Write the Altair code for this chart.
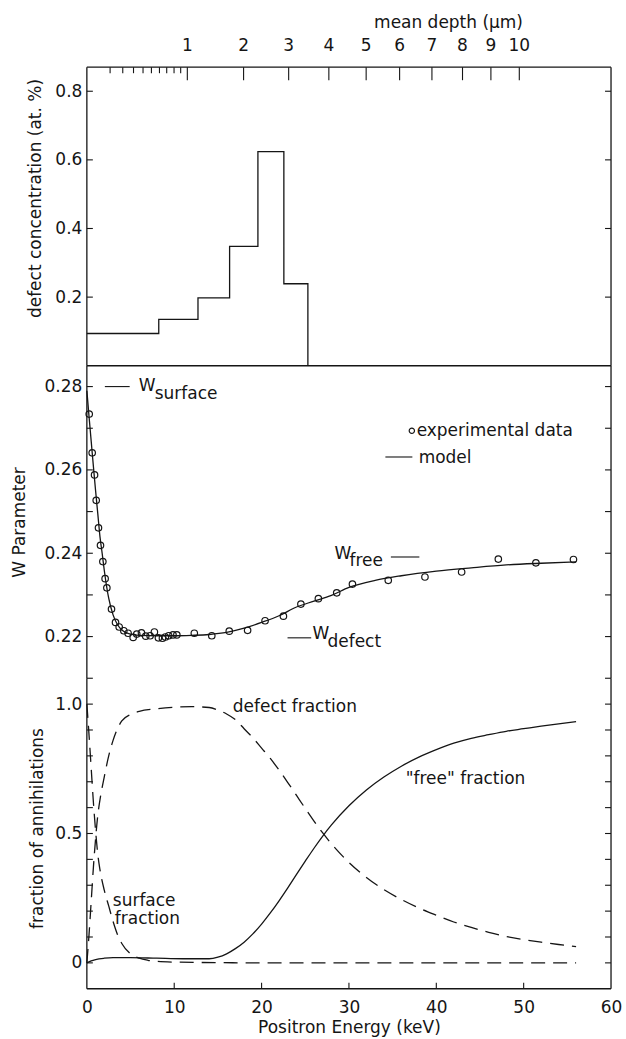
import altair as alt
import pandas as pd

# ---------------- data ----------------
# top panel: defect concentration profile (step function, at. %)
prof_E = [0, 8.23, 12.72, 16.34, 19.58, 22.55, 25.3]
prof_c = [0.094, 0.135, 0.198, 0.348, 0.624, 0.239, 0.0]

# top axis: mean depth (um) -> positron energy (keV) positions
depth_labels = ["1", "2", "3", "4", "5", "6", "7", "8", "9", "10"]
depth_major_E = [11.5, 17.94, 23.1, 27.7, 31.97, 35.8, 39.5, 43.0, 46.25, 49.5]
depth_minor_E = [2.66, 4.11, 5.34, 6.43, 7.39, 8.31, 9.14, 9.98, 10.74]

# middle panel: W parameter, experimental points
W_exp_E = [0.27, 0.61, 0.88, 1.07, 1.33, 1.56, 1.83, 2.09, 2.29, 2.82,
           3.28, 3.7, 4.23, 4.72, 5.3, 5.71, 6.25, 6.74, 7.24, 7.73,
           8.19, 8.65, 8.99, 9.37, 9.86, 10.3, 12.3, 14.3, 16.3, 18.4,
           20.4, 22.5, 24.5, 26.5, 28.6, 30.4, 34.5, 38.7, 42.9, 47.1,
           51.4, 55.7]
W_exp = [0.2734, 0.2641, 0.2588, 0.2527, 0.2461, 0.2419, 0.2380, 0.2339, 0.2317, 0.2266,
         0.2234, 0.2223, 0.2214, 0.2208, 0.2198, 0.2206, 0.2209, 0.2201, 0.2202, 0.2211,
         0.2197, 0.2196, 0.2199, 0.2202, 0.2204, 0.2204, 0.2208, 0.2202, 0.2213, 0.2215,
         0.2238, 0.2249, 0.2278, 0.2291, 0.2305, 0.2326, 0.2335, 0.2343, 0.2355, 0.2386,
         0.2377, 0.2385]

# middle panel: model curve
W_model_E = [0, 0.25, 0.5, 0.75, 1.0, 1.25, 1.5, 1.75, 2.0, 2.5,
             3.0, 3.5, 4.0, 5.0, 6.0, 8.0, 10, 12, 14, 16,
             18, 20, 22, 24, 26, 28, 30, 33, 36, 40,
             44, 48, 52, 56]
W_model = [0.279, 0.2728, 0.2668, 0.2608, 0.2550, 0.2495, 0.2440, 0.2400, 0.2358, 0.2292,
           0.2252, 0.2229, 0.2216, 0.2206, 0.2203, 0.2202, 0.2202, 0.2203, 0.2205, 0.2210,
           0.2220, 0.2234, 0.2250, 0.2271, 0.2285, 0.2299, 0.2318, 0.2335, 0.2346, 0.2357,
           0.2365, 0.2372, 0.2376, 0.2379]

# bottom panel: fractions of annihilations
free_E = [0, 0.5, 1, 2, 3, 5, 8, 11, 14, 15,
          16, 17, 18, 19, 20, 21, 22, 23, 24, 25,
          26, 27, 28, 30, 32, 34, 36, 38, 40, 42,
          44, 46, 48, 50, 52, 54, 56]
free_f = [0.0, 0.008, 0.013, 0.018, 0.02, 0.02, 0.018, 0.016, 0.016, 0.022,
          0.035, 0.055, 0.08, 0.112, 0.15, 0.193, 0.24, 0.29, 0.342, 0.393,
          0.443, 0.49, 0.533, 0.607, 0.668, 0.718, 0.76, 0.795, 0.824, 0.849,
          0.868, 0.882, 0.895, 0.905, 0.915, 0.924, 0.932]

defect_E = [0, 0.25, 0.5, 0.75, 1.0, 1.25, 1.5, 2.0, 2.5, 3.0,
            3.5, 4.0, 5, 6, 8, 10, 12, 14, 15, 16,
            17, 18, 19, 20, 21, 22, 23, 24, 25, 26,
            27, 28, 30, 32, 34, 36, 38, 40, 42, 44,
            46, 48, 50, 52, 54, 56]
defect_f = [0, 0.11, 0.24, 0.37, 0.48, 0.57, 0.63, 0.72, 0.80, 0.86,
            0.905, 0.935, 0.96, 0.972, 0.982, 0.988, 0.99, 0.987, 0.977, 0.962,
            0.94, 0.905, 0.87, 0.83, 0.79, 0.745, 0.697, 0.647, 0.597, 0.548,
            0.502, 0.46, 0.388, 0.33, 0.283, 0.245, 0.212, 0.184, 0.158, 0.137,
            0.118, 0.102, 0.09, 0.08, 0.071, 0.063]

surf_E = [0, 0.25, 0.5, 0.75, 1.0, 1.25, 1.5, 2.0, 2.5, 3.0,
          3.5, 4.0, 5.0, 6.0, 7.0, 8.0, 10, 15, 20, 30,
          40, 50, 56]
surf_f = [1.0, 0.88, 0.75, 0.62, 0.51, 0.42, 0.36, 0.28, 0.22, 0.16,
          0.11, 0.075, 0.035, 0.018, 0.01, 0.006, 0.003, 0.001, 0, 0,
          0, 0, 0]

# axis tick values
x_ticks = [0, 10, 20, 30, 40, 50, 60]
x_inner_ticks = [10, 20, 30, 40, 50]
top_y_labels = [0.2, 0.4, 0.6, 0.8]
mid_y_labels = [0.22, 0.24, 0.26, 0.28]
mid_y_ticks = [0.22, 0.23, 0.24, 0.25, 0.26, 0.27, 0.28]
bot_y_labels = [0, 0.5, 1.0]
bot_y_ticks = [0, 0.1, 0.2, 0.3, 0.4, 0.5, 0.6, 0.7, 0.8, 0.9, 1.0, 1.1]

# annotations (data coordinates)
mid_text = pd.DataFrame({
    "E": [5.94, 7.77, 37.75, 37.98, 28.34, 30.06, 25.83, 27.54],
    "v": [0.2802, 0.2783, 0.2694, 0.2629, 0.2397, 0.2381, 0.2205, 0.2188],
    "t": ["W", "surface", "experimental data", "model", "W", "free", "W", "defect"],
})
mid_dash = pd.DataFrame({
    "x1": [2.06, 34.17, 34.8, 22.97],
    "x2": [4.9, 37.26, 38.06, 25.68],
    "v": [0.28, 0.2631, 0.2391, 0.2197],
})
mid_marker = pd.DataFrame({"E": [37.2], "v": [0.2694]})
bot_text = pd.DataFrame({
    "E": [16.7, 2.97, 3.2, 36.5],
    "v": [0.99, 0.241, 0.17, 0.71],
    "t": ["defect fraction", "surface", "fraction", "\"free\" fraction"],
})
depth_title = pd.DataFrame({"E": [41.4], "t": ["mean depth (μm)"]})

# ---------------- chart ----------------
PW = 525
H1, H2, H3 = 299, 313, 311
INK = "#151515"
FONT = "DejaVu Sans"
FS = 17
LW = 1.3

xsc = alt.Scale(domain=[0, 60], nice=False, zero=False)
y1 = alt.Scale(domain=[0, 0.87], nice=False, zero=False)
y2 = alt.Scale(domain=[0.21, 0.285], nice=False, zero=False)
y3 = alt.Scale(domain=[-0.1, 1.1], nice=False, zero=False)

ax1 = alt.Axis(values=top_y_labels, format=".1f", title="defect concentration (at. %)",
               ticks=False, tickSize=0, domain=False, grid=False, labelPadding=5,
               titleX=-51, titleY=131, titleBaseline="middle")
ax2 = alt.Axis(values=mid_y_labels, format=".2f", title="W Parameter",
               ticks=False, tickSize=0, domain=False, grid=False, labelPadding=5,
               titleX=-67, titleBaseline="middle")
ax3 = alt.Axis(values=bot_y_labels, title="fraction of annihilations",
               labelExpr="datum.value == 0 ? '0' : format(datum.value, '.1f')",
               ticks=False, tickSize=0, domain=False, grid=False, labelPadding=5,
               titleX=-49, titleY=150, titleBaseline="middle")
axx = alt.Axis(values=x_ticks, format="d", title="Positron Energy (keV)",
               ticks=False, tickSize=0, domain=False, grid=False, labelPadding=11,
               labelFlush=False, titlePadding=4)

one = alt.Data(values=[{"k": 0}])


def rule_px(**enc):
    return alt.Chart(one).mark_rule(color=INK, strokeWidth=LW).encode(**enc)


def y_ticks(vals, scale, ax):
    d = pd.DataFrame({"v": vals})
    left = alt.Chart(d).mark_rule(color=INK, strokeWidth=1.1).encode(
        y=alt.Y("v:Q", scale=scale, axis=ax), x=alt.value(0), x2=alt.value(6))
    right = alt.Chart(d).mark_rule(color=INK, strokeWidth=1.1).encode(
        y=alt.Y("v:Q", scale=scale, axis=ax), x=alt.value(PW - 6), x2=alt.value(PW))
    return [left, right]


def text_layer(df, scale, ax, xax, fs=FS):
    return alt.Chart(df).mark_text(align="left", baseline="middle", font=FONT,
                                   fontSize=fs, color=INK).encode(
        x=alt.X("E:Q", scale=xsc, axis=xax),
        y=alt.Y("v:Q", scale=scale, axis=ax),
        text="t:N")


# ---- top panel ----
top_line = alt.Chart(pd.DataFrame({"E": prof_E, "c": prof_c})).mark_line(
    interpolate="step-after", color=INK, strokeWidth=LW).encode(
    x=alt.X("E:Q", scale=xsc, axis=None),
    y=alt.Y("c:Q", scale=y1, axis=ax1))

dmaj = pd.DataFrame({"E": depth_major_E, "lab": depth_labels})
dmin = pd.DataFrame({"E": depth_minor_E})
depth_major_ticks = alt.Chart(dmaj).mark_rule(color=INK, strokeWidth=1.1).encode(
    x=alt.X("E:Q", scale=xsc, axis=None), y=alt.value(0), y2=alt.value(13))
depth_minor_ticks = alt.Chart(dmin).mark_rule(color=INK, strokeWidth=1.1).encode(
    x=alt.X("E:Q", scale=xsc, axis=None), y=alt.value(0), y2=alt.value(6))
depth_text = alt.Chart(dmaj).mark_text(baseline="middle", align="center", font=FONT,
                                       fontSize=FS, color=INK).encode(
    x=alt.X("E:Q", scale=xsc, axis=None), y=alt.value(-21), text="lab:N")
depth_title_mark = alt.Chart(depth_title).mark_text(baseline="middle", align="center",
                                                    font=FONT, fontSize=FS, color=INK).encode(
    x=alt.X("E:Q", scale=xsc, axis=None), y=alt.value(-44), text="t:N")

top = alt.layer(
    top_line,
    *y_ticks(top_y_labels, y1, ax1),
    depth_major_ticks, depth_minor_ticks, depth_text, depth_title_mark,
    rule_px(x=alt.value(0), x2=alt.value(PW), y=alt.value(0)),
    rule_px(x=alt.value(0), x2=alt.value(PW), y=alt.value(H1)),
    rule_px(x=alt.value(0), y=alt.value(0), y2=alt.value(H1)),
    rule_px(x=alt.value(PW), y=alt.value(0), y2=alt.value(H1)),
).properties(width=PW, height=H1)

# ---- middle panel ----
model = alt.Chart(pd.DataFrame({"E": W_model_E, "W": W_model})).mark_line(
    interpolate="monotone", color=INK, strokeWidth=LW).encode(
    x=alt.X("E:Q", scale=xsc, axis=None),
    y=alt.Y("W:Q", scale=y2, axis=ax2))
pts = alt.Chart(pd.DataFrame({"E": W_exp_E, "W": W_exp})).mark_point(
    shape="circle", filled=False, size=42, color=INK, strokeWidth=1.2, opacity=1).encode(
    x=alt.X("E:Q", scale=xsc, axis=None),
    y=alt.Y("W:Q", scale=y2, axis=ax2))
mk = alt.Chart(mid_marker).mark_point(
    shape="circle", filled=False, size=28, color=INK, strokeWidth=1.2, opacity=1).encode(
    x=alt.X("E:Q", scale=xsc, axis=None), y=alt.Y("v:Q", scale=y2, axis=ax2))
dashes = alt.Chart(mid_dash).mark_rule(color=INK, strokeWidth=1.1).encode(
    x=alt.X("x1:Q", scale=xsc, axis=None), x2="x2:Q",
    y=alt.Y("v:Q", scale=y2, axis=ax2))

mid = alt.layer(
    model, pts, mk, dashes, text_layer(mid_text, y2, ax2, None),
    *y_ticks(mid_y_ticks, y2, ax2),
    rule_px(x=alt.value(0), y=alt.value(0), y2=alt.value(H2)),
    rule_px(x=alt.value(PW), y=alt.value(0), y2=alt.value(H2)),
).properties(width=PW, height=H2)

# ---- bottom panel ----
free_line = alt.Chart(pd.DataFrame({"E": free_E, "f": free_f})).mark_line(
    interpolate="monotone", color=INK, strokeWidth=LW).encode(
    x=alt.X("E:Q", scale=xsc, axis=axx),
    y=alt.Y("f:Q", scale=y3, axis=ax3))
defect_line = alt.Chart(pd.DataFrame({"E": defect_E, "f": defect_f})).mark_line(
    interpolate="monotone", color=INK, strokeWidth=LW, strokeDash=[14, 8]).encode(
    x=alt.X("E:Q", scale=xsc, axis=axx), y=alt.Y("f:Q", scale=y3, axis=ax3))
surf_line = alt.Chart(pd.DataFrame({"E": surf_E, "f": surf_f})).mark_line(
    interpolate="monotone", color=INK, strokeWidth=LW, strokeDash=[14, 8]).encode(
    x=alt.X("E:Q", scale=xsc, axis=axx), y=alt.Y("f:Q", scale=y3, axis=ax3))
xt = alt.Chart(pd.DataFrame({"E": x_inner_ticks})).mark_rule(color=INK, strokeWidth=1.1).encode(
    x=alt.X("E:Q", scale=xsc, axis=axx), y=alt.value(H3 - 6), y2=alt.value(H3))

bot = alt.layer(
    free_line, defect_line, surf_line, text_layer(bot_text, y3, ax3, axx), xt,
    *y_ticks(bot_y_ticks, y3, ax3),
    rule_px(x=alt.value(0), y=alt.value(0), y2=alt.value(H3)),
    rule_px(x=alt.value(PW), y=alt.value(0), y2=alt.value(H3)),
    rule_px(x=alt.value(0), x2=alt.value(PW), y=alt.value(H3)),
).properties(width=PW, height=H3)

chart = alt.vconcat(top, mid, bot, spacing=0, bounds="flush").properties(
    padding={"left": 11, "top": 13.5, "right": 4, "bottom": 0},
    background="white",
).configure_view(stroke=None).configure_axis(
    labelFont=FONT, labelFontSize=FS, labelColor=INK,
    titleFont=FONT, titleFontSize=FS, titleColor=INK, titleFontWeight="normal",
)

chart.save("out.html", embed_options={"renderer": "svg", "actions": False})
